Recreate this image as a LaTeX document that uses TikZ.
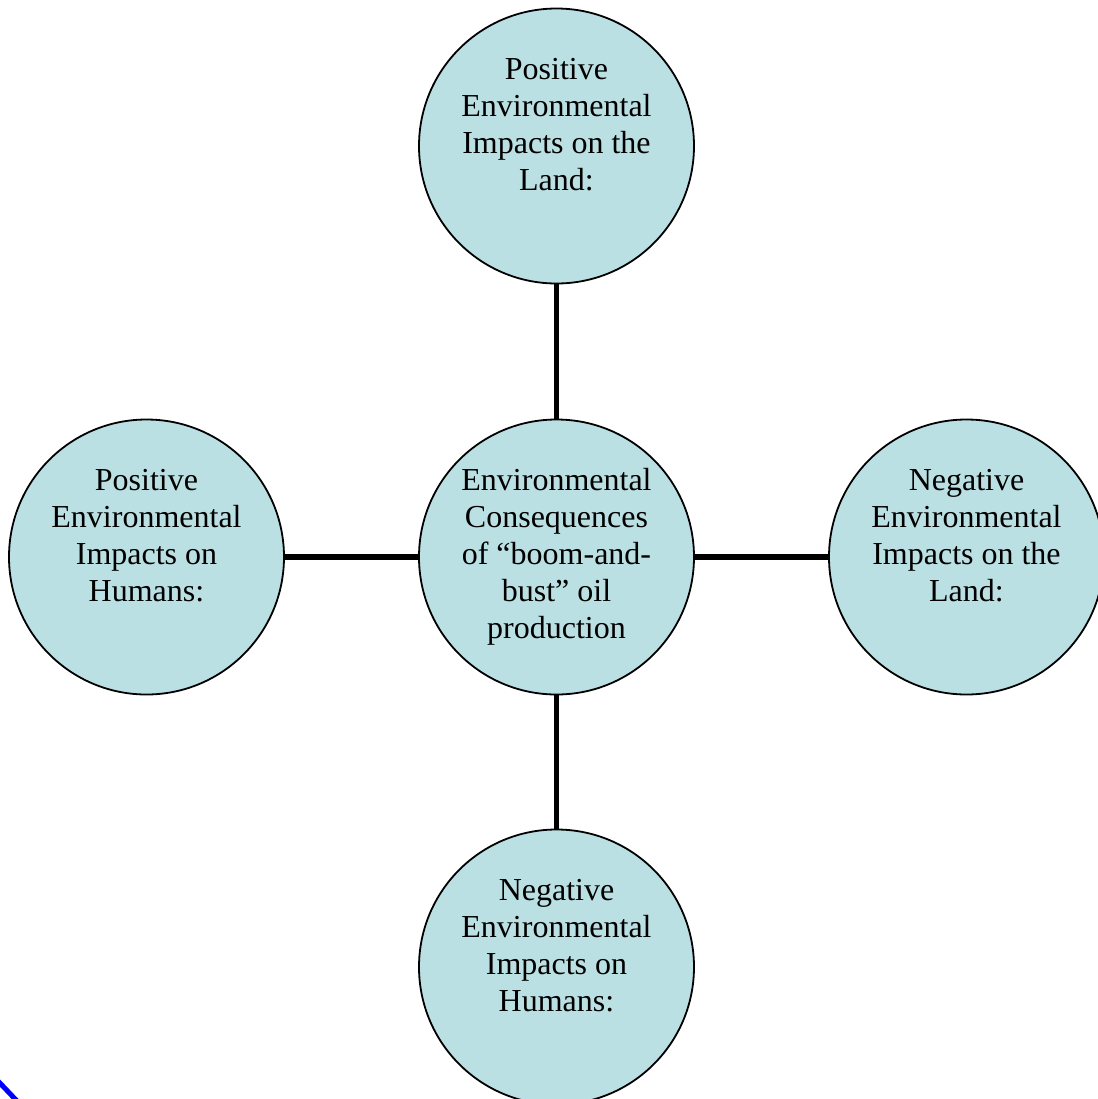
\documentclass[tikz,border=0pt]{standalone}
\usepackage{fontspec}
\setmainfont{Liberation Serif}
\definecolor{bubble}{RGB}{187,224,227}
\definecolor{handle}{RGB}{0,0,255}
\begin{document}
\begin{tikzpicture}[x=0.5pt,y=-0.5pt,
  bubblenode/.style={circle, draw=black, line width=0.9pt, fill=bubble,
    minimum size=137.5pt, inner sep=0pt, align=center,
    font=\fontsize{16}{18.5}\selectfont},
  link/.style={line width=2.8pt, black}]
\useasboundingbox (0,0) rectangle (1098,1099);
\node[bubblenode] (c) at (556.5,557) {\strut Environmental\\\strut Consequences\\\strut of “boom-and-\\\strut bust” oil\\\strut production};
\node[bubblenode] (t) at (556.5,146) {\strut Positive\\\strut Environmental\\\strut Impacts on the\\\strut Land:\\\strut};
\node[bubblenode] (l) at (146.5,557) {\strut Positive\\\strut Environmental\\\strut Impacts on\\\strut Humans:\\\strut};
\node[bubblenode] (r) at (966.5,557) {\strut Negative\\\strut Environmental\\\strut Impacts on the\\\strut Land:\\\strut};
\node[bubblenode] (b) at (556.5,967) {\strut Negative\\\strut Environmental\\\strut Impacts on\\\strut Humans:\\\strut};
\draw[link] (c) -- (t);
\draw[link] (c) -- (l);
\draw[link] (c) -- (r);
\draw[link] (c) -- (b);
\draw[handle, line width=2.5pt] (-2,1081) -- (17,1101);
\end{tikzpicture}
\end{document}
